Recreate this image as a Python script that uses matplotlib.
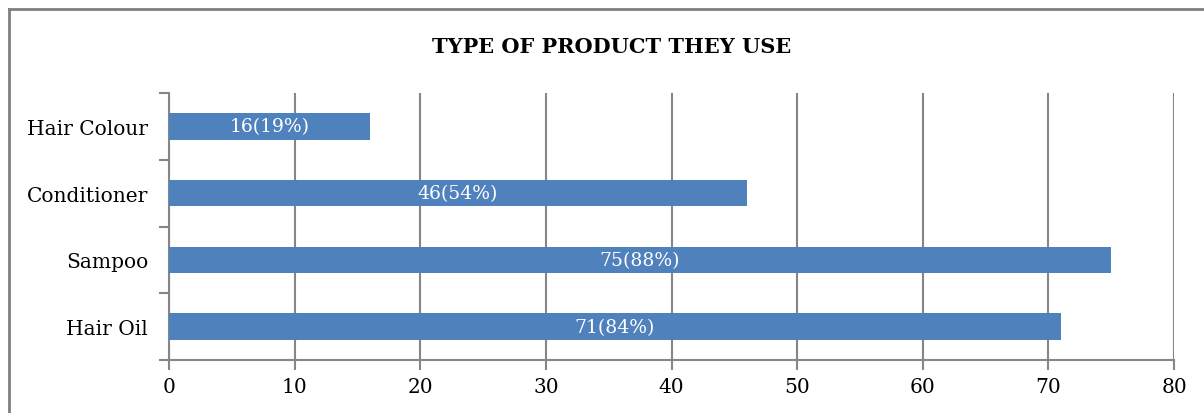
import matplotlib.pyplot as plt
from matplotlib.lines import Line2D

# data
categories = ["Hair Oil", "Sampoo", "Conditioner", "Hair Colour"]
counts = [71, 75, 46, 16]
percents = [84, 88, 54, 19]

plt.rcParams['font.family'] = ['DejaVu Serif']

fig = plt.figure(figsize=(12.04, 4.14), dpi=100)
ax = fig.add_axes([169 / 1204, 1 - 361 / 414, (1174 - 169) / 1204, (361 - 94) / 414])

ypos = range(len(categories))
bars = ax.barh(ypos, counts, height=0.4, color='#4F81BD', zorder=3)

# labels inside bars
for i, (c, p) in enumerate(zip(counts, percents)):
    ax.text(c / 2, i, "%d(%d%%)" % (c, p), ha='center', va='center',
            color='white', fontsize=13.5, zorder=4)

ax.set_xlim(0, 80)
ax.set_ylim(-0.5, len(categories) - 0.5)
ax.set_xticks(range(0, 81, 10))
ax.set_yticks(list(ypos))
ax.set_yticklabels(categories)
ax.set_yticks([i - 0.5 for i in range(len(categories) + 1)], minor=True)

ax.grid(axis='x', color='#868686', linewidth=1.5, zorder=0)
for s in ['top', 'right']:
    ax.spines[s].set_visible(False)
for s in ['left', 'bottom']:
    ax.spines[s].set_color('#868686')
    ax.spines[s].set_linewidth(1.5)

ax.tick_params(axis='x', length=7, width=1.5, color='#868686', labelsize=14.5, pad=5)
ax.tick_params(axis='y', which='major', length=0, labelsize=14.5, pad=15)
ax.tick_params(axis='y', which='minor', length=7, width=1.5, color='#868686')

fig.text(612 / 1204, 1 - 47 / 414, "TYPE OF PRODUCT THEY USE", ha='center', va='center',
         fontsize=15, fontweight='bold')

# outer chart frame (only top and left edges visible)
x0 = 9 / 1204
y0 = 1 - 10 / 414
fig.add_artist(Line2D([x0, 1.01], [y0, y0], color='#7f7f7f', linewidth=2, transform=fig.transFigure))
fig.add_artist(Line2D([x0, x0], [-0.01, y0], color='#7f7f7f', linewidth=2, transform=fig.transFigure))

fig.savefig("out.png", dpi=100)
